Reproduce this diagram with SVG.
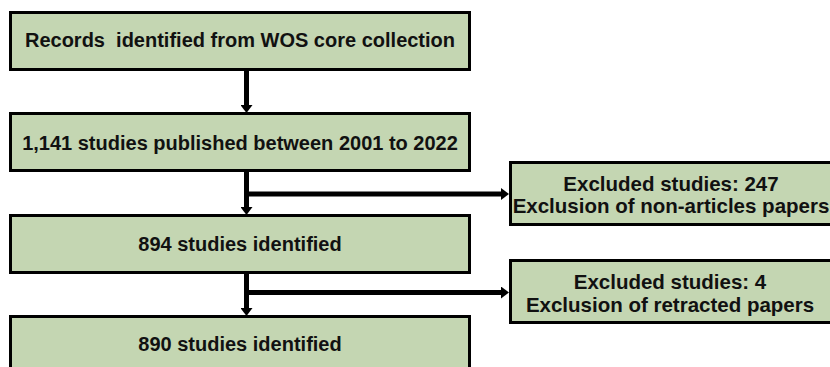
<svg xmlns="http://www.w3.org/2000/svg" width="830" height="367" viewBox="0 0 830 367">
  <defs>
    <style>
      .box { fill: #C4D6B2; stroke: #000; stroke-width: 3; }
      .lbl { font-family: "Liberation Sans", Arial, sans-serif; font-weight: bold; fill: #111; text-anchor: middle; white-space: pre; }
      .main { font-size: 20px; }
      .side { font-size: 20.5px; }
      .wire { stroke: #000; stroke-width: 5; fill: none; }
    </style>
    <marker id="head" markerUnits="userSpaceOnUse" markerWidth="10" markerHeight="12" refX="1" refY="6" orient="auto">
      <path d="M0,0 L8,6 L0,12 z" fill="#000"/>
    </marker>
  </defs>
  <rect width="830" height="367" fill="#fff"/>

  <!-- flow connectors -->
  <g id="connectors">
    <path class="wire" d="M246.5,71 V106" marker-end="url(#head)"/>
    <path class="wire" d="M246.5,171 V208" marker-end="url(#head)"/>
    <path class="wire" d="M246.5,194 H502" marker-end="url(#head)"/>
    <path class="wire" d="M246.5,273 V309" marker-end="url(#head)"/>
    <path class="wire" d="M246.5,292.5 H502" marker-end="url(#head)"/>
  </g>

  <g id="records">
    <rect class="box" x="10.5" y="12.5" width="459" height="57"/>
    <text class="lbl main" x="240" y="47" xml:space="preserve">Records  identified from WOS core collection</text>
  </g>

  <g id="published">
    <rect class="box" x="10.5" y="113.5" width="459" height="57"/>
    <text class="lbl main" x="240" y="150">1,141 studies published between 2001 to 2022</text>
  </g>

  <g id="identified894">
    <rect class="box" x="10.5" y="215.5" width="459" height="57"/>
    <text class="lbl main" x="240" y="251">894 studies identified</text>
  </g>

  <g id="identified890">
    <rect class="box" x="10.5" y="316.5" width="459" height="70"/>
    <text class="lbl main" x="240" y="351">890 studies identified</text>
  </g>

  <g id="excluded247">
    <rect class="box" x="510.5" y="162.5" width="340" height="62"/>
    <text class="lbl side" x="671" y="191">Excluded studies: 247</text>
    <text class="lbl side" x="671" y="213">Exclusion of non-articles papers</text>
  </g>

  <g id="excluded4">
    <rect class="box" x="510.5" y="260.5" width="340" height="62"/>
    <text class="lbl side" x="670" y="289">Excluded studies: 4</text>
    <text class="lbl side" x="670" y="311.5">Exclusion of retracted papers</text>
  </g>
</svg>
